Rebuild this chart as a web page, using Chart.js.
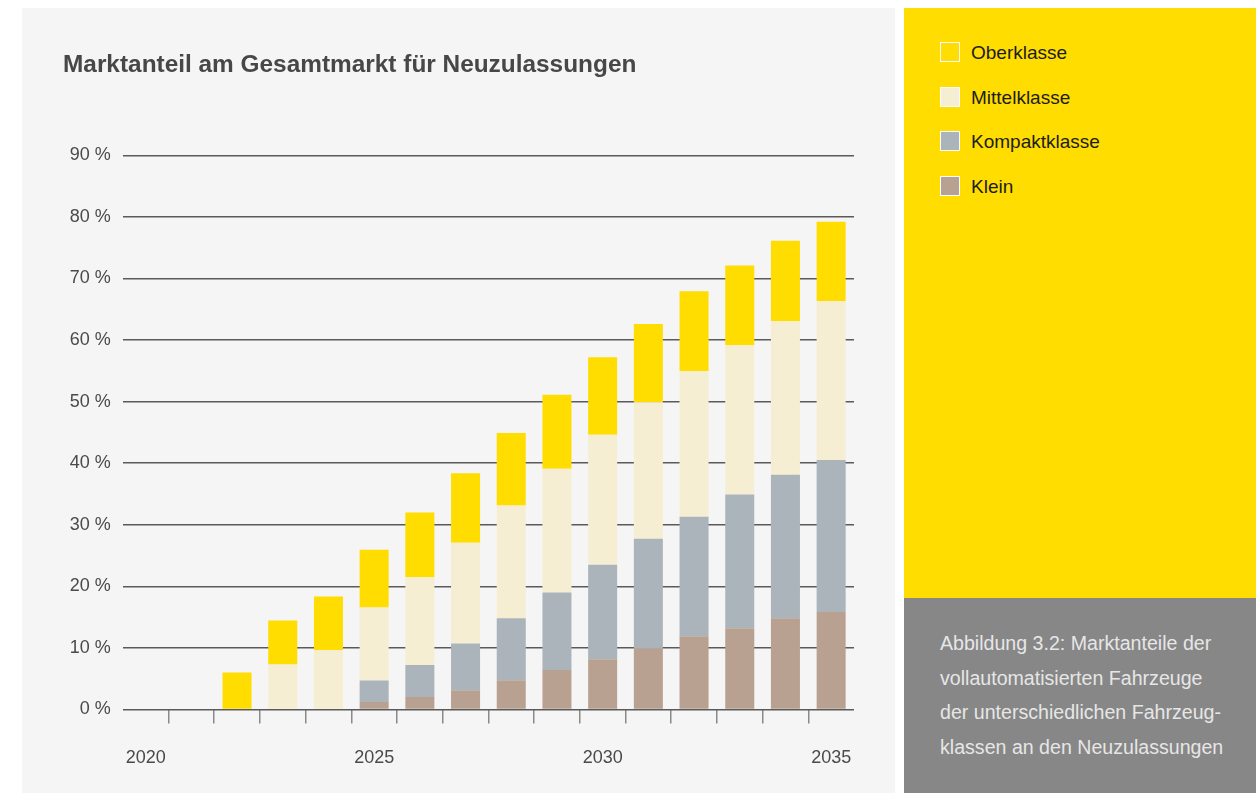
<!DOCTYPE html>
<html>
<head>
<meta charset="utf-8">
<script src="https://cdn.jsdelivr.net/npm/chart.js@4/dist/chart.umd.min.js"></script>
<style>
  html, body { margin: 0; padding: 0; background: #ffffff; width: 1256px; height: 793px; overflow: hidden; }
  #panel { position: absolute; left: 22px; top: 8px; width: 873px; height: 785px; background: #f5f5f5; }
  #panel canvas { display: block; }
  #side { position: absolute; left: 904px; top: 8px; width: 352px; height: 590px; background: #ffdd00; }
  #caption { position: absolute; left: 904px; top: 598px; width: 352px; height: 195px; background: #878787; }
  #legend { position: absolute; left: 36px; top: 34px; margin: 0; padding: 0; list-style: none; }
  #legend li { position: relative; height: 20px; margin-bottom: 24.7px; font-family: "Liberation Sans", Arial, sans-serif; font-size: 19px; line-height: 20px; color: #1c1c1c; }
  #legend li span.box { position: absolute; left: 0; top: 0; width: 18px; height: 18px; border: 1px solid #ffffff; }
  #legend li span.txt { position: absolute; left: 31px; top: 1px; white-space: nowrap; }
  #captext { position: absolute; left: 36px; top: 28px; font-family: "Liberation Sans", Arial, sans-serif; font-size: 19.6px; line-height: 34.6px; color: #e6e6e6; }
</style>
</head>
<body>
<div id="panel"><canvas id="c" width="873" height="785"></canvas></div>
<div id="side"><ul id="legend"></ul></div>
<div id="caption"><div id="captext">Abbildung 3.2: Marktanteile der<br>vollautomatisierten Fahrzeuge<br>der unterschiedlichen Fahrzeug-<br>klassen an den Neuzulassungen</div></div>
<script>
// ---- data ----
const years = ['2020','2021','2022','2023','2024','2025','2026','2027','2028','2029','2030','2031','2032','2033','2034','2035'];
const shownYearLabels = ['2020','2025','2030','2035'];
const yTicks = [0,10,20,30,40,50,60,70,80,90];
const seriesNames = ['Klein','Kompaktklasse','Mittelklasse','Oberklasse'];
const klein        = [0, 0, 0,    0,    0,    1.2,  2.0,  3.1,  4.75, 6.4,  8.15, 9.9,  11.9, 13.2, 14.8, 15.8];
const kompaktklasse= [0, 0, 0,    0,    0,    3.5,  5.2,  7.6,  10.05,12.6, 15.35,17.8, 19.4, 21.7, 23.3, 24.7];
const mittelklasse = [0, 0, 0,    7.3,  9.6,  11.85,14.25,16.35,18.3, 20.1, 21.1, 22.2, 23.65,24.25,24.95,25.8];
const oberklasse   = [0, 0, 6.0,  7.15, 8.75, 9.4,  10.55,11.3, 11.8, 12.0, 12.6, 12.7, 12.95,12.95,13.05,12.9];
const seriesColors = ['#b9a191','#aab4ba','#f5eed3','#ffdd00'];

const seriesData = [klein, kompaktklasse, mittelklasse, oberklasse];

const datasets = seriesNames.map((n, i) => ({
  label: n,
  data: seriesData[i],
  backgroundColor: seriesColors[i],
  borderWidth: 0,
  categoryPercentage: 1.0,
  barPercentage: 0.635,
  stack: 's'
}));

// legend (top to bottom = reverse stacking order)
const legendEl = document.getElementById('legend');
for (let i = seriesNames.length - 1; i >= 0; i--) {
  const li = document.createElement('li');
  li.innerHTML = '<span class="box" style="background:' + seriesColors[i] + '"></span><span class="txt">' + seriesNames[i] + '</span>';
  legendEl.appendChild(li);
}

const FONT = '"Liberation Sans", Arial, sans-serif';

new Chart(document.getElementById('c'), {
  type: 'bar',
  data: { labels: years, datasets: datasets },
  options: {
    responsive: false,
    animation: false,
    layout: { padding: { left: 41, right: 41, top: 0, bottom: 0 } },
    plugins: {
      legend: { display: false },
      tooltip: { enabled: false },
      title: {
        display: true,
        text: 'Marktanteil am Gesamtmarkt für Neuzulassungen',
        align: 'start',
        color: '#474747',
        font: { family: FONT, size: 24.4, weight: 'bold' },
        padding: { top: 43, bottom: 75 }
      }
    },
    scales: {
      x: {
        stacked: true,
        offset: true,
        border: { display: false },
        grid: {
          offset: true,
          drawOnChartArea: false,
          drawTicks: true,
          tickLength: 14,
          lineWidth: 1.5,
          color: (ctx) => (ctx.type !== 'tick' || ctx.index === 0) ? 'rgba(0,0,0,0)' : '#8a8a8a',
          tickColor: (ctx) => (ctx.type !== 'tick' || ctx.index === 0) ? 'rgba(0,0,0,0)' : '#8a8a8a'
        },
        ticks: {
          autoSkip: false,
          maxRotation: 0,
          padding: 24,
          color: '#4a4a4a',
          font: { family: FONT, size: 18 },
          callback: function(v, i) { const l = years[i]; return shownYearLabels.includes(l) ? l : ''; }
        }
      },
      y: {
        stacked: true,
        min: 0,
        max: 90,
        border: { display: false },
        afterFit: (scale) => { scale.width = 59.8; },
        afterBuildTicks: (scale) => { scale.ticks = yTicks.map(v => ({ value: v })); },
        grid: {
          drawTicks: false,
          color: '#5a5a5a',
          lineWidth: 1.5
        },
        ticks: {
          padding: 12,
          color: '#4a4a4a',
          font: { family: FONT, size: 18 },
          callback: (v) => v + ' %'
        }
      }
    }
  }
});
</script>
</body>
</html>
